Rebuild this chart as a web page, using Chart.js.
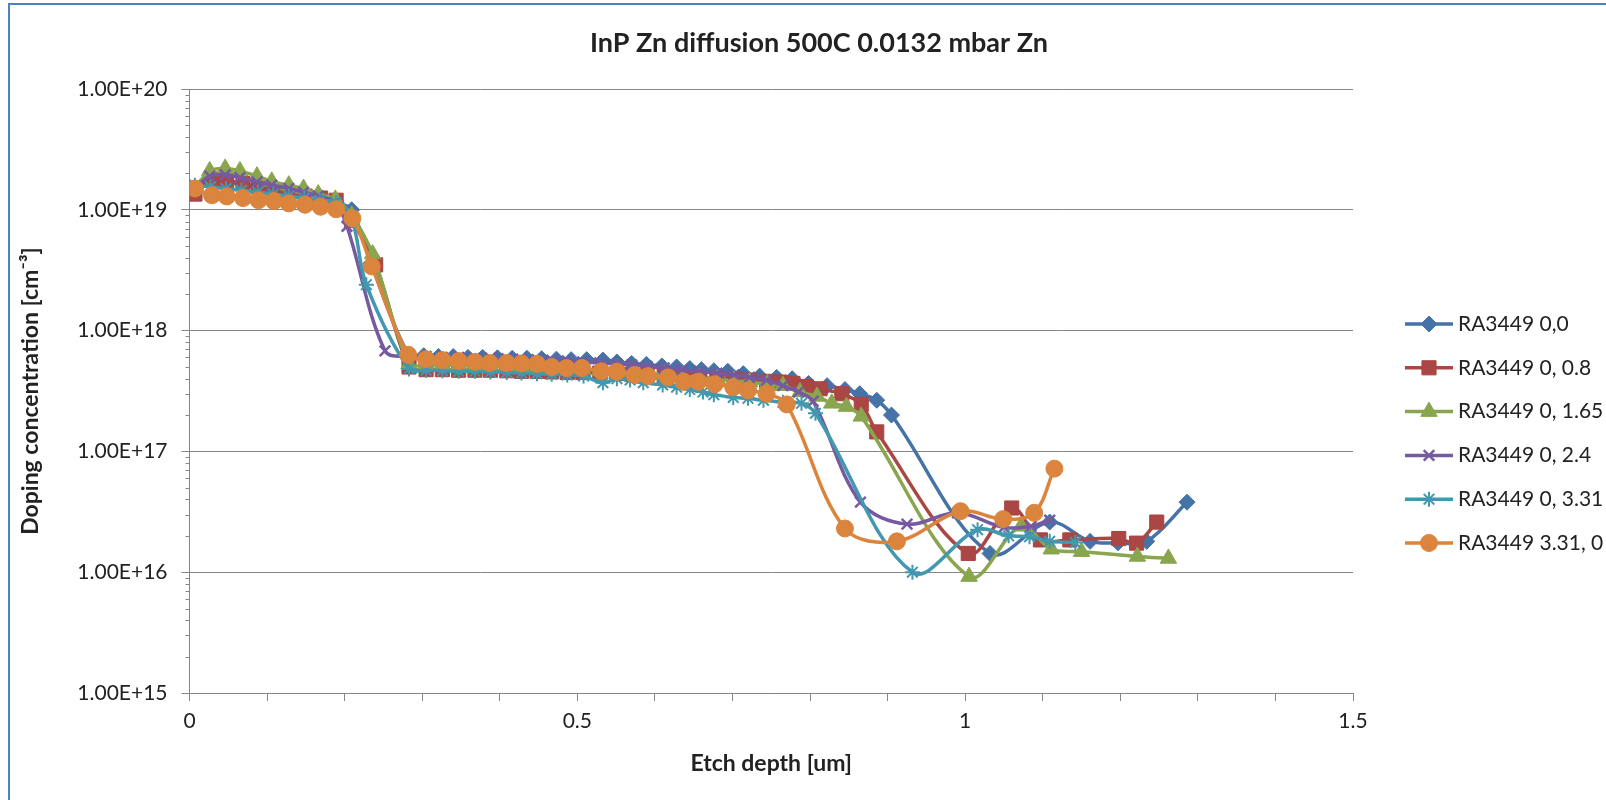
<!DOCTYPE html>
<html lang="en">
<head>
<meta charset="UTF-8">
<title>InP Zn diffusion 500C 0.0132 mbar Zn</title>
<script src="https://cdn.jsdelivr.net/npm/chart.js"></script>
<style>
  html, body { margin: 0; padding: 0; background: #fff; }
  .wrap { position: relative; width: 1606px; height: 800px; overflow: hidden; }
  .frame { position: absolute; left: 8px; top: 3px; width: 1700px; height: 900px;
           border: 2px solid #4f81bd; pointer-events: none; }
</style>
</head>
<body>
<div class="wrap">
  <canvas id="dopingChart"></canvas>
  <div class="frame"></div>
</div>
<script>
// etch depth [um] and doping concentration [cm-3] per measurement
const depth00 = [0.007, 0.027, 0.047, 0.067, 0.088, 0.108, 0.128, 0.148, 0.168, 0.189, 0.209, 0.234,
  0.283, 0.302, 0.321, 0.340, 0.359, 0.378, 0.397, 0.416, 0.435, 0.454, 0.473, 0.492, 0.512, 0.533,
  0.551, 0.570, 0.589, 0.609, 0.628, 0.645, 0.660, 0.676, 0.694, 0.714, 0.735, 0.757, 0.777, 0.798,
  0.822, 0.845, 0.864, 0.886, 0.905, 1.032, 1.109, 1.161, 1.197, 1.234, 1.286];
const conc00 = [1.5e19, 1.65e19, 1.7e19, 1.65e19, 1.55e19, 1.45e19, 1.4e19, 1.3e19, 1.22e19, 1.15e19, 1.0e19, 3.6e18,
  6.2e17, 6.2e17, 6.1e17, 6.1e17, 6.0e17, 6.0e17, 5.95e17, 5.9e17, 5.9e17, 5.85e17, 5.8e17, 5.75e17, 5.75e17, 5.7e17,
  5.5e17, 5.35e17, 5.25e17, 5.1e17, 5.0e17, 4.85e17, 4.75e17, 4.65e17, 4.6e17, 4.4e17, 4.2e17, 4.1e17, 4.0e17, 3.65e17,
  3.5e17, 3.25e17, 3.0e17, 2.65e17, 2.0e17, 1.43e16, 2.6e16, 1.8e16, 1.75e16, 1.8e16, 3.8e16];

const depth008 = [0.007, 0.029, 0.048, 0.069, 0.089, 0.109, 0.128, 0.149, 0.169, 0.189, 0.209, 0.240,
  0.283, 0.305, 0.326, 0.347, 0.368, 0.388, 0.409, 0.428, 0.448, 0.467, 0.487, 0.507, 0.529, 0.551,
  0.570, 0.590, 0.612, 0.637, 0.658, 0.680, 0.702, 0.722, 0.744, 0.761, 0.778, 0.795, 0.813, 0.841,
  0.866, 0.886, 1.004, 1.060, 1.097, 1.135, 1.198, 1.221, 1.247];
const conc008 = [1.35e19, 1.8e19, 1.75e19, 1.65e19, 1.55e19, 1.45e19, 1.38e19, 1.3e19, 1.25e19, 1.2e19, 8.2e18, 3.5e18,
  5.0e17, 4.75e17, 4.75e17, 4.7e17, 4.7e17, 4.7e17, 4.65e17, 4.6e17, 4.6e17, 4.55e17, 4.5e17, 4.5e17, 4.45e17, 4.4e17,
  4.35e17, 4.3e17, 4.2e17, 4.1e17, 4.05e17, 4.0e17, 3.95e17, 3.9e17, 3.8e17, 3.75e17, 3.65e17, 3.45e17, 3.3e17, 3.0e17,
  2.45e17, 1.45e17, 1.43e16, 3.4e16, 1.85e16, 1.85e16, 1.9e16, 1.74e16, 2.6e16];

const depth0165 = [0.007, 0.026, 0.046, 0.065, 0.087, 0.106, 0.128, 0.147, 0.166, 0.188, 0.209, 0.236,
  0.283, 0.305, 0.326, 0.347, 0.368, 0.388, 0.409, 0.428, 0.448, 0.467, 0.487, 0.507, 0.529, 0.551,
  0.570, 0.590, 0.612, 0.635, 0.658, 0.680, 0.702, 0.722, 0.745, 0.765, 0.787, 0.809, 0.828, 0.847,
  0.866, 1.005, 1.072, 1.111, 1.150, 1.222, 1.262];
const conc0165 = [1.5e19, 2.1e19, 2.2e19, 2.1e19, 1.9e19, 1.72e19, 1.6e19, 1.5e19, 1.35e19, 1.22e19, 9.0e18, 4.3e18,
  5.3e17, 5.2e17, 5.2e17, 5.15e17, 5.1e17, 5.1e17, 5.05e17, 5.0e17, 4.95e17, 4.9e17, 4.85e17, 4.8e17, 4.7e17, 4.6e17,
  4.5e17, 4.4e17, 4.3e17, 4.15e17, 4.05e17, 3.95e17, 3.85e17, 3.75e17, 3.6e17, 3.5e17, 3.1e17, 2.85e17, 2.5e17, 2.35e17,
  1.95e17, 9.2e15, 2.4e16, 1.55e16, 1.48e16, 1.35e16, 1.3e16];

const depth024 = [0.007, 0.026, 0.046, 0.065, 0.087, 0.106, 0.128, 0.147, 0.166, 0.188, 0.203, 0.252,
  0.283, 0.305, 0.326, 0.347, 0.368, 0.388, 0.409, 0.428, 0.448, 0.467, 0.487, 0.507, 0.529, 0.551,
  0.570, 0.590, 0.612, 0.635, 0.658, 0.680, 0.702, 0.722, 0.744, 0.765, 0.785, 0.804, 0.865, 0.925,
  0.990, 1.050, 1.085, 1.109];
const conc024 = [1.5e19, 1.9e19, 1.95e19, 1.85e19, 1.7e19, 1.6e19, 1.5e19, 1.4e19, 1.3e19, 1.15e19, 7.3e18, 6.8e17,
  6.1e17, 6.1e17, 6.0e17, 6.0e17, 5.9e17, 5.9e17, 5.85e17, 5.8e17, 5.75e17, 5.7e17, 5.6e17, 5.5e17, 5.4e17, 5.3e17,
  5.2e17, 5.05e17, 4.9e17, 4.75e17, 4.6e17, 4.45e17, 4.3e17, 4.1e17, 3.9e17, 3.5e17, 3.1e17, 2.6e17, 3.8e16, 2.5e16,
  3.1e16, 2.35e16, 2.4e16, 2.7e16];

const depth0331 = [0.007, 0.027, 0.047, 0.067, 0.088, 0.108, 0.128, 0.148, 0.168, 0.189, 0.209, 0.228,
  0.283, 0.305, 0.326, 0.347, 0.368, 0.388, 0.409, 0.428, 0.448, 0.467, 0.487, 0.508, 0.533, 0.551,
  0.568, 0.585, 0.610, 0.628, 0.645, 0.662, 0.676, 0.701, 0.720, 0.740, 0.765, 0.789, 0.807, 0.932,
  1.016, 1.056, 1.083, 1.109, 1.142];
const conc0331 = [1.6e19, 1.55e19, 1.5e19, 1.45e19, 1.4e19, 1.35e19, 1.3e19, 1.25e19, 1.2e19, 1.15e19, 8.5e18, 2.4e18,
  4.8e17, 4.7e17, 4.65e17, 4.6e17, 4.6e17, 4.55e17, 4.5e17, 4.45e17, 4.4e17, 4.35e17, 4.3e17, 4.2e17, 3.7e17, 4.0e17,
  3.9e17, 3.7e17, 3.55e17, 3.4e17, 3.25e17, 3.1e17, 2.95e17, 2.8e17, 2.75e17, 2.65e17, 2.55e17, 2.5e17, 2.07e17, 1.0e16,
  2.25e16, 2.0e16, 1.97e16, 1.8e16, 1.76e16];

const depth3310 = [0.007, 0.029, 0.048, 0.069, 0.089, 0.109, 0.128, 0.149, 0.169, 0.189, 0.210, 0.235,
  0.282, 0.305, 0.326, 0.347, 0.368, 0.387, 0.409, 0.428, 0.448, 0.467, 0.486, 0.506, 0.531, 0.551,
  0.574, 0.591, 0.617, 0.637, 0.656, 0.677, 0.701, 0.720, 0.744, 0.770, 0.845, 0.912, 0.994, 1.049,
  1.089, 1.115];
const conc3310 = [1.5e19, 1.32e19, 1.29e19, 1.25e19, 1.2e19, 1.18e19, 1.13e19, 1.1e19, 1.06e19, 1.01e19, 8.5e18, 3.4e18,
  6.3e17, 5.8e17, 5.7e17, 5.6e17, 5.5e17, 5.4e17, 5.4e17, 5.35e17, 5.3e17, 5.0e17, 4.9e17, 4.9e17, 4.6e17, 4.57e17,
  4.3e17, 4.2e17, 4.1e17, 3.78e17, 3.78e17, 3.6e17, 3.4e17, 3.2e17, 3.0e17, 2.45e17, 2.3e16, 1.8e16, 3.2e16, 2.75e16,
  3.1e16, 7.2e16];

const seriesNames = ['RA3449 0,0', 'RA3449 0, 0.8', 'RA3449 0, 1.65', 'RA3449 0, 2.4', 'RA3449 0, 3.31', 'RA3449 3.31, 0'];
const yDecades = [15, 16, 17, 18, 19, 20];
const yTickLabels = ['1.00E+15', '1.00E+16', '1.00E+17', '1.00E+18', '1.00E+19', '1.00E+20'];
const xTickValues = [0, 0.5, 1, 1.5];
const xTickLabels = ['0', '0.5', '1', '1.5'];

const colors = ['#4572A7', '#AA4643', '#89A54E', '#7659A0', '#4198AF', '#DB843D'];
const markers = [
  { style: 'rectRot', radius: 8, border: 1 },
  { style: 'rect', radius: 10, border: 1 },
  { style: 'triangle', radius: 9.5, border: 1 },
  { style: 'crossRot', radius: 7.5, border: 2.5 },
  { style: 'star', radius: 7.5, border: 2 },
  { style: 'circle', radius: 8.5, border: 1 }
];
const depths = [depth00, depth008, depth0165, depth024, depth0331, depth3310];
const concs = [conc00, conc008, conc0165, conc024, conc0331, conc3310];

const textColor = '#222';
const gridColor = '#868686';
Chart.defaults.font.family = 'Lato';
Chart.defaults.color = textColor;

const datasets = seriesNames.map((name, i) => ({
  label: name,
  data: depths[i].map((d, j) => ({ x: d, y: concs[i][j] })),
  xAxisID: 'x',
  yAxisID: 'y',
  borderColor: colors[i],
  backgroundColor: colors[i],
  borderWidth: 3.5,
  tension: 0.35,
  fill: false,
  pointStyle: markers[i].style,
  pointRadius: markers[i].radius,
  pointHoverRadius: markers[i].radius,
  pointBorderWidth: markers[i].border,
  pointBackgroundColor: colors[i],
  pointBorderColor: colors[i],
  order: seriesNames.length - i
}));

// short minor ticks on the log axis and the line+marker legend on the right
const excelBits = {
  id: 'excelBits',
  afterDraw(chart) {
    const ctx = chart.ctx;
    const ys = chart.scales.y;
    ctx.save();
    ctx.strokeStyle = gridColor;
    ctx.lineWidth = 1;
    ys.ticks.forEach(t => {
      if (t.major) return;
      const py = Math.round(ys.getPixelForValue(t.value)) + 0.5;
      ctx.beginPath();
      ctx.moveTo(ys.right - 4, py);
      ctx.lineTo(ys.right, py);
      ctx.stroke();
    });

    const lx = chart.chartArea.right + 52;
    ctx.font = '21px Lato';
    ctx.textBaseline = 'middle';
    chart.data.datasets.forEach((ds, i) => {
      const y = 324 + i * 43.8;
      ctx.strokeStyle = ds.borderColor;
      ctx.lineWidth = ds.borderWidth;
      ctx.beginPath();
      ctx.moveTo(lx, y);
      ctx.lineTo(lx + 48, y);
      ctx.stroke();
      ctx.fillStyle = ds.pointBackgroundColor;
      ctx.strokeStyle = ds.pointBorderColor;
      ctx.lineWidth = ds.pointBorderWidth;
      Chart.helpers.drawPoint(ctx, { pointStyle: ds.pointStyle, radius: ds.pointRadius, borderWidth: ds.pointBorderWidth }, lx + 24, y);
      ctx.fillStyle = textColor;
      ctx.fillText(ds.label, lx + 53, y);
    });
    ctx.restore();
  }
};

new Chart(document.getElementById('dopingChart'), {
  type: 'line',
  data: { datasets },
  plugins: [excelBits],
  options: {
    responsive: true,
    maintainAspectRatio: false,
    animation: false,
    layout: { padding: { left: 32, right: 0, top: 0, bottom: 0 } },
    plugins: {
      legend: { display: false },
      tooltip: { enabled: false },
      title: {
        display: true,
        text: 'InP Zn diffusion 500C 0.0132 mbar Zn',
        color: textColor,
        font: { family: 'Lato', size: 27, weight: 'bold' },
        padding: { top: 26.8, bottom: 29.8 }
      }
    },
    scales: {
      x: {
        type: 'linear',
        min: 0,
        max: 1.5,
        afterFit: s => { s.height = 107; },
        ticks: {
          stepSize: 0.1,
          autoSkip: false,
          maxRotation: 0,
          padding: 8,
          font: { size: 21 },
          callback: v => {
            const k = xTickValues.findIndex(t => Math.abs(t - v) < 1e-9);
            return k >= 0 ? xTickLabels[k] : '';
          }
        },
        grid: { drawOnChartArea: false, color: gridColor, tickColor: gridColor, tickLength: 8 },
        border: { color: gridColor },
        title: {
          display: true,
          text: 'Etch depth [um]',
          font: { size: 23, weight: 'bold' },
          padding: { top: 0, bottom: 23 }
        }
      },
      y: {
        type: 'logarithmic',
        min: 1e15,
        max: 1e20,
        afterFit: s => { s.width = 157.5; },
        afterBuildTicks: s => {
          const t = [];
          yDecades.forEach((e, i) => {
            const top = i === yDecades.length - 1 ? 1 : 9;
            for (let m = 1; m <= top; m++) t.push({ value: m * Math.pow(10, e), major: m === 1 });
          });
          s.ticks = t;
        },
        ticks: {
          autoSkip: false,
          padding: 14,
          font: { size: 21 },
          callback: (v, i, ticks) => {
            if (!ticks[i].major) return '';
            return yTickLabels[yDecades.indexOf(Math.round(Math.log10(v)))];
          }
        },
        grid: {
          color: c => (c.tick && c.tick.major) ? gridColor : 'rgba(0,0,0,0)',
          tickColor: c => (c.tick && c.tick.major) ? gridColor : 'rgba(0,0,0,0)',
          tickLength: 8
        },
        border: { color: gridColor },
        title: {
          display: true,
          text: 'Doping concentration [cm\u207B\u00B3]',
          font: { size: 23, weight: 'bold' },
          padding: { top: -14.8, bottom: 0 }
        }
      },
      yR: {
        type: 'linear',
        position: 'right',
        afterFit: s => { s.width = 253; },
        grid: { display: false },
        border: { display: false },
        ticks: { display: false }
      }
    }
  }
});
</script>
</body>
</html>
